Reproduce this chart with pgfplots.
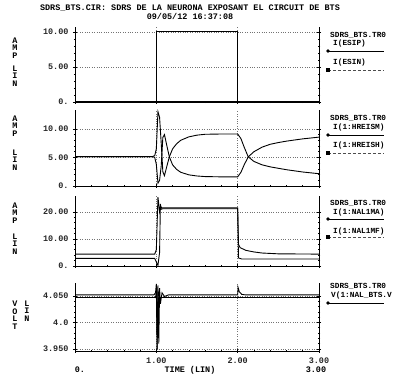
\documentclass[border=0pt]{standalone}
\usepackage{fontspec}
\setmonofont{Liberation Mono}
\usepackage{pgfplots}
\pgfplotsset{compat=1.18}
\newcommand{\hf}{\ttfamily\bfseries\fontsize{8.5}{9}\selectfont}
\newcommand{\lf}{\ttfamily\bfseries\fontsize{7.8}{9}\selectfont}
\pgfplotsset{
 panel/.style={
   scale only axis, width=244bp, xmin=0, xmax=3,
   axis x line*=bottom,
   xtick={0,1,2,3}, minor x tick num=4, xticklabels={},
   xmajorgrids, ymajorgrids,
   major grid style={dotted, black!55, line width=0.6pt},
   tick align=center, major tick length=4bp, minor tick length=2.5bp,
   every tick/.style={black, line width=0.6pt},
   axis line style={line width=0.7pt},
   ticklabel style={font=\hf, text=black!85},
   minor y tick num=4,
   yticklabel style={xshift=-1bp},
   cycle list={{black,line width=0.9pt,mark=none},{black,line width=0.9pt,mark=none}},
 }
}
\begin{document}
\begin{tikzpicture}[x=1bp,y=1bp]
\path[use as bounding box] (0,0) rectangle (394,379);
% titles
\node[font=\hf] at (190,371) {SDRS\_BTS.CIR: SDRS DE LA NEURONA EXPOSANT EL CIRCUIT DE BTS};
\node[font=\hf] at (190,363) {09/05/12 16:37:08};

% Panel 1
\begin{axis}[panel, at={(75bp,277bp)}, anchor=south west, height=75bp,
  ymin=0, ymax=10.7, ytick={0,5,10}, yticklabels={0.,5.00,10.00}]
\addplot coordinates {(0,0)(1,0)(1,10)(2,10)(2,0)(3,0)};
\addplot coordinates {(0,0.05)(3,0.05)};
\end{axis}

% Panel 2
\begin{axis}[panel, at={(75bp,193bp)}, anchor=south west, height=76bp,
  ymin=0, ymax=13.3, ytick={0,5,10}, yticklabels={0.,5.00,10.00}]
\addplot coordinates {(0,5.15)(0.95,5.15)(0.98,5.3)(1.0,6.5)(1.02,13.0)(1.04,12.0)(1.06,7.5)(1.08,2.5)(1.10,1.8)(1.13,3.5)(1.16,5.1)(1.2,6.5)(1.25,7.4)(1.3,8.0)(1.4,8.6)(1.5,8.9)(1.6,9.05)(1.8,9.1)(2.0,9.1)(2.04,8.3)(2.08,6.8)(2.13,5.1)(2.2,4.3)(2.3,3.7)(2.4,3.35)(2.5,3.1)(2.6,2.85)(2.7,2.65)(2.8,2.45)(2.9,2.3)(3.0,2.15)};
\addplot coordinates {(0,5.15)(0.95,5.15)(0.98,5.0)(1.0,3.8)(1.02,0.5)(1.04,1.0)(1.06,3.5)(1.08,8.5)(1.10,9.0)(1.13,7.0)(1.16,5.1)(1.2,3.7)(1.25,2.9)(1.3,2.4)(1.4,1.95)(1.5,1.75)(1.6,1.65)(1.8,1.6)(2.0,1.6)(2.04,2.4)(2.08,3.7)(2.13,5.1)(2.2,6.0)(2.3,6.8)(2.4,7.3)(2.5,7.6)(2.6,7.85)(2.7,8.05)(2.8,8.25)(2.9,8.4)(3.0,8.55)};
\end{axis}

% Panel 3
\begin{axis}[panel, at={(75bp,113bp)}, anchor=south west, height=70bp,
  ymin=0, ymax=25.9, ytick={0,10,20}, yticklabels={0.,10.00,20.00}]
\addplot coordinates {(0,4.4)(0.98,4.4)(1.0,6)(1.02,25.5)(1.04,20)(1.05,22)(1.07,21.5)(2.0,21.5)(2.01,8)(2.03,6.8)(2.1,5.8)(2.2,5.2)(2.3,4.8)(2.5,4.5)(3.0,4.4)};
\addplot coordinates {(0,2.8)(0.98,2.8)(1.0,1.5)(1.02,0.3)(1.04,5)(1.05,23)(1.06,21)(1.08,21.2)(2.0,21.2)(2.01,3.0)(2.05,2.6)(3.0,2.6)};
\end{axis}

% Panel 4
\begin{axis}[panel, at={(75bp,28bp)}, anchor=south west, height=68bp,
  ymin=3.946, ymax=4.0745, ytick={3.95,4.0,4.05}, yticklabels={3.950,4.0,4.050},
  xticklabels={,1.00,2.00,3.00}, xticklabel style={yshift=-1bp}]
\addplot coordinates {(0,4.052)(0.97,4.052)(0.99,4.056)(1.0,4.073)(1.01,3.948)(1.02,4.07)(1.03,3.96)(1.04,4.065)(1.05,4.035)(1.07,4.056)(1.1,4.049)(1.15,4.052)(2.0,4.052)(2.005,4.066)(2.02,4.058)(2.05,4.053)(2.1,4.052)(3,4.052)};
\addplot coordinates {(0,4.047)(0.99,4.047)(1.0,4.06)(1.01,3.95)(1.02,4.06)(1.04,4.047)(3,4.047)};
\end{axis}

% x-axis extra labels
\node[font=\hf] at (80,9) {0.};
\node[font=\hf] at (190,9) {TIME (LIN)};
\node[font=\hf] at (316,9) {3.00};

% y axis labels
\node[font=\hf, align=center, inner sep=0] at (15,331) {\shortstack{A\\[-1pt]M\\[-1pt]P}};
\node[font=\hf, align=center, inner sep=0] at (15,303) {\shortstack{L\\[-1pt]I\\[-1pt]N}};
\node[font=\hf, align=center, inner sep=0] at (15,253) {\shortstack{A\\[-1pt]M\\[-1pt]P}};
\node[font=\hf, align=center, inner sep=0] at (15,219) {\shortstack{L\\[-1pt]I\\[-1pt]N}};
\node[font=\hf, align=center, inner sep=0] at (15,166) {\shortstack{A\\[-1pt]M\\[-1pt]P}};
\node[font=\hf, align=center, inner sep=0] at (15,135) {\shortstack{L\\[-1pt]I\\[-1pt]N}};
\node[font=\hf, align=center, inner sep=0] at (15,64) {\shortstack{V\\[-1pt]O\\[-1pt]L\\[-1pt]T}};
\node[font=\hf, align=center, inner sep=0] at (27,68) {\shortstack{L\\[-1pt]I\\[-1pt]N}};

% legends
\begin{scope}[every node/.style={font=\lf, anchor=west, inner sep=0}]
\node at (330,344) {SDRS\_BTS.TR0};
\node at (333,336) {I(ESIP)};
\draw[line width=0.8pt] (328,328) -- (384,328);
\fill (328,328) circle (1.8);
\node at (333,317) {I(ESIN)};
\draw[line width=0.8pt, densely dashed, black!70] (328,309) -- (384,309);
\fill (326,307) rectangle (330,311);

\node at (330,261) {SDRS\_BTS.TR0};
\node at (333,252) {I(1:HREISM)};
\draw[line width=0.8pt] (328,244) -- (384,244);
\fill (328,244) circle (1.8);
\node at (333,234) {I(1:HREISH)};
\draw[line width=0.8pt, densely dashed, black!70] (328,226) -- (384,226);
\fill (326,224) rectangle (330,228);

\node at (330,176) {SDRS\_BTS.TR0};
\node at (333,167) {I(1:NAL1MA)};
\draw[line width=0.8pt] (328,160) -- (384,160);
\fill (328,160) circle (1.8);
\node at (333,148) {I(1:NAL1MF)};
\draw[line width=0.8pt, densely dashed, black!70] (328,142) -- (384,142);
\fill (326,140) rectangle (330,144);

\node at (330,93) {SDRS\_BTS.TR0};
\node at (331,84) {V(1:NAL\_BTS.V};
\draw[line width=0.8pt] (328,76) -- (384,76);
\fill (328,76) circle (1.8);
\end{scope}
\end{tikzpicture}
\end{document}
